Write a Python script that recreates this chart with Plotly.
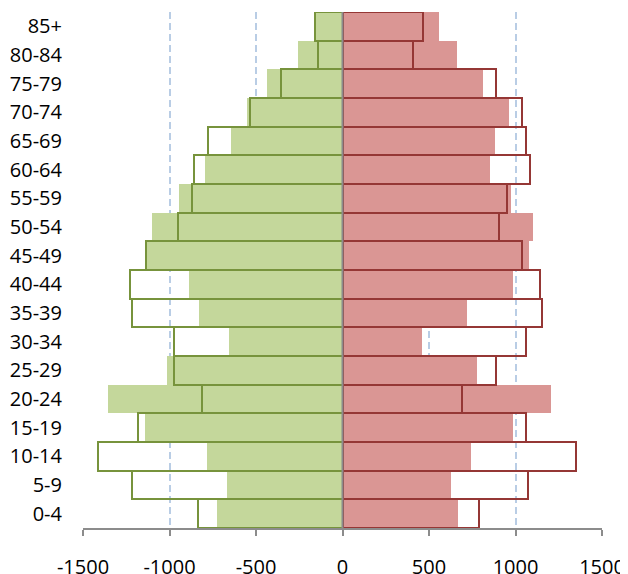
import plotly.graph_objects as go

age_groups = ["0-4", "5-9", "10-14", "15-19", "20-24", "25-29", "30-34", "35-39",
              "40-44", "45-49", "50-54", "55-59", "60-64", "65-69", "70-74",
              "75-79", "80-84", "85+"]

# filled bars (current year)
male_filled = [-727, -669, -783, -1139, -1358, -1014, -657, -831, -888, -1133,
               -1104, -944, -796, -646, -551, -439, -257, -160]
female_filled = [665, 630, 745, 986, 1204, 780, 458, 722, 986, 1079,
                 1102, 973, 850, 884, 963, 813, 663, 558]

# outlined bars (comparison year)
male_outline = [-835, -1216, -1413, -1181, -813, -975, -975, -1216, -1229, -1136,
                -950, -871, -860, -777, -536, -353, -140, -160]
female_outline = [788, 1073, 1350, 1063, 693, 888, 1061, 1154, 1140, 1038,
                  902, 948, 1084, 1061, 1036, 888, 408, 464]

tick_vals = [-1500, -1000, -500, 0, 500, 1000, 1500]
tick_text = ["-1500", "-1000", "-500", "0", "500", "1000", "1500"]

fig = go.Figure()
fig.add_trace(go.Bar(y=age_groups, x=male_filled, orientation="h",
                     marker=dict(color="#c4d79b", line=dict(width=0)), showlegend=False))
fig.add_trace(go.Bar(y=age_groups, x=female_filled, orientation="h",
                     marker=dict(color="#da9694", line=dict(width=0)), showlegend=False))
fig.add_trace(go.Bar(y=age_groups, x=male_outline, orientation="h",
                     marker=dict(color="rgba(255,255,255,0)", line=dict(color="#77933c", width=2)),
                     showlegend=False))
fig.add_trace(go.Bar(y=age_groups, x=female_outline, orientation="h",
                     marker=dict(color="rgba(255,255,255,0)", line=dict(color="#953735", width=2)),
                     showlegend=False))

fig.add_shape(type="line", x0=0, x1=0, y0=0, y1=1, xref="x", yref="paper",
              line=dict(color="#8c8c8c", width=2), layer="above")

fig.update_layout(
    width=620, height=566,
    margin=dict(l=75, r=26, t=4, b=46),
    barmode="overlay", bargap=0,
    plot_bgcolor="white", paper_bgcolor="white",
    font=dict(family="Open Sans", size=20, color="black"),
    xaxis=dict(range=[-1500, 1500], tickvals=tick_vals, ticktext=tick_text,
               showgrid=True, gridcolor="#b9cde5", gridwidth=2, griddash="7px,4px",
               zeroline=False, showline=True, linecolor="#8c8c8c", linewidth=2,
               ticks="outside", ticklen=6, tickcolor="#8c8c8c", tickwidth=2,
               ticklabelstandoff=14, automargin=False),
    yaxis=dict(categoryorder="array", categoryarray=age_groups,
               showgrid=False, zeroline=False, showline=False, ticks="",
               ticklabelstandoff=20, automargin=False),
)

fig.write_html("out.html")
